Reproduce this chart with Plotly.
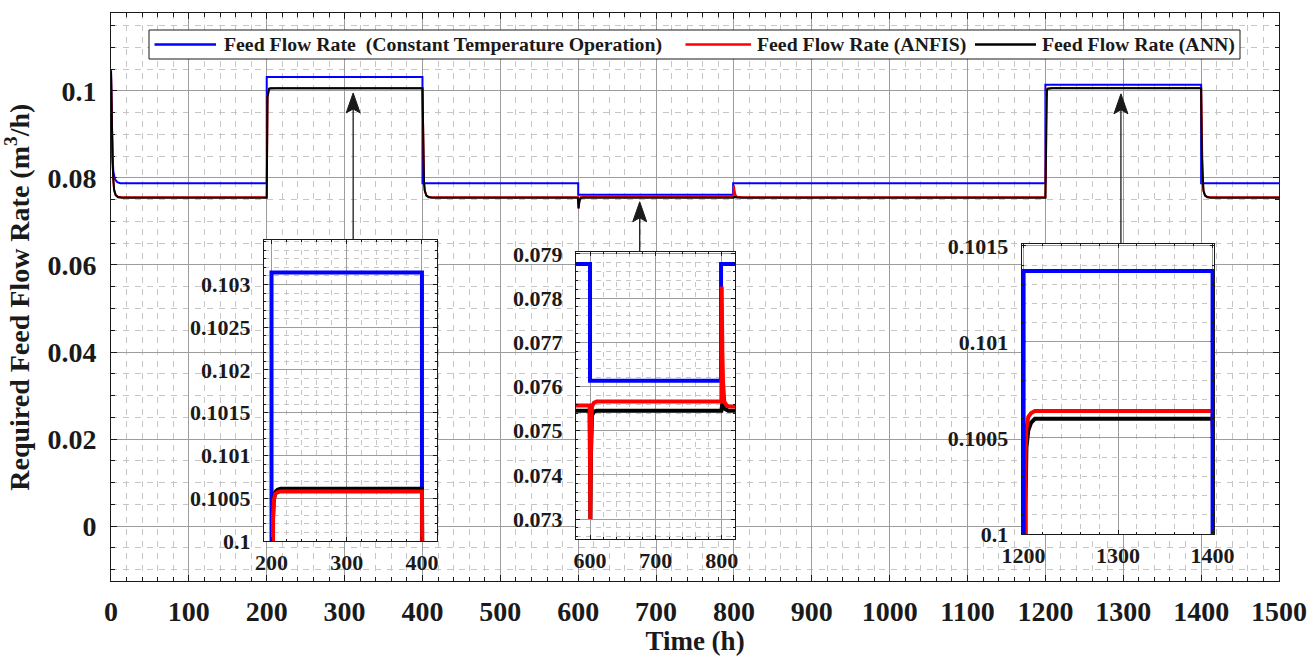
import plotly.graph_objects as go

# ---------------- data ----------------
T_CONST = [0, 1, 2, 3, 5, 8, 12, 200, 200, 400, 400, 600, 600, 799, 799,
           1200, 1200, 1400, 1400, 1500]
Q_CONST = [0.1050, 0.0930, 0.0850, 0.0815, 0.0797, 0.0790, 0.07877, 0.07877, 0.10314,
           0.10314, 0.07877, 0.07877, 0.07613, 0.07613, 0.07877,
           0.07877, 0.10137, 0.10137, 0.07877, 0.07877]

T_ANN = [0, 1, 2, 3, 4, 6, 9, 14,
         200, 201, 202, 203, 205, 208, 212,
         400, 401, 402, 403, 405, 408, 412,
         599.5, 600.5, 601.5, 603, 606, 610,
         799.5, 801, 804, 810,
         1200, 1201, 1202, 1203, 1205, 1208, 1212,
         1400, 1401, 1402, 1403, 1405, 1408, 1412, 1500]
Q_ANN = [0.1045, 0.0920, 0.0840, 0.0795, 0.0772, 0.0760, 0.07555, 0.07545,
         0.07545, 0.0985, 0.10025, 0.10048, 0.10057, 0.10060, 0.10061,
         0.10061, 0.0850, 0.0790, 0.0770, 0.0759, 0.07555, 0.07545,
         0.07545, 0.0730, 0.0745, 0.07535, 0.07543, 0.07545,
         0.07545, 0.07562, 0.07550, 0.07545,
         0.07545, 0.0985, 0.10015, 0.10045, 0.10054, 0.10058, 0.10060,
         0.10060, 0.0850, 0.0790, 0.0770, 0.0759, 0.07555, 0.07545, 0.07545]

T_ANFIS = [0, 1, 2, 3, 4, 6, 9, 14,
           200, 201, 202, 203, 205, 208, 212,
           400, 401, 402, 403, 405, 408, 412,
           599.5, 600.5, 601.5, 603, 606, 610,
           799.5, 800, 801, 802, 804, 808, 812,
           1200, 1201, 1202, 1203, 1205, 1208, 1212,
           1400, 1401, 1402, 1403, 1405, 1408, 1412, 1500]
Q_ANFIS = [0.1045, 0.0920, 0.0840, 0.0795, 0.0773, 0.0761, 0.07565, 0.07557,
           0.07557, 0.0990, 0.10030, 0.10048, 0.10055, 0.10057, 0.10058,
           0.10058, 0.0850, 0.0790, 0.0771, 0.0760, 0.07565, 0.07557,
           0.07557, 0.0730, 0.0748, 0.07555, 0.07563, 0.07566,
           0.07566, 0.07826, 0.0768, 0.0761, 0.07565, 0.07556, 0.07555,
           0.07557, 0.0995, 0.10040, 0.10055, 0.10061, 0.10063, 0.10064,
           0.10064, 0.0850, 0.0790, 0.0771, 0.0760, 0.07565, 0.07557, 0.07557]

NAMES = ["Feed Flow Rate&#160;&#160;(Constant Temperature Operation)",
         "Feed Flow Rate (ANFIS)",
         "Feed Flow Rate (ANN)"]

X_TICKS = list(range(0, 1501, 100))
Y_TICKS = [0, 0.02, 0.04, 0.06, 0.08, 0.1]
Y_TICK_TEXT = ["0", "0.02", "0.04", "0.06", "0.08", "0.1"]

IN1_X_TICKS = [200, 300, 400]
IN1_Y_TICKS = [0.1, 0.1005, 0.101, 0.1015, 0.102, 0.1025, 0.103]
IN1_Y_TEXT = ["0.1", "0.1005", "0.101", "0.1015", "0.102", "0.1025", "0.103"]
IN2_X_TICKS = [600, 700, 800]
IN2_Y_TICKS = [0.073, 0.074, 0.075, 0.076, 0.077, 0.078, 0.079]
IN2_Y_TEXT = ["0.073", "0.074", "0.075", "0.076", "0.077", "0.078", "0.079"]
IN3_X_TICKS = [1200, 1300, 1400]
IN3_Y_TICKS = [0.1, 0.1005, 0.101, 0.1015]
IN3_Y_TEXT = ["0.1", "0.1005", "0.101", "0.1015"]

# arrows: (time, tip value, tail value)
ARROWS = [(311, 0.0995, 0.0658), (679, 0.0745, 0.0631), (1297, 0.0993, 0.0649)]

# ---------------- styling ----------------
BLUE, RED, BLACK = "#0000ff", "#ff0000", "#000000"
COLORS = [BLUE, RED, BLACK]
INK = "#1a1a1a"
FONT = "Liberation Serif"
MAJOR_GRID = "#9c9c9c"
MINOR_GRID = "#c6c6c6"

W, H = 1312, 656
MAIN_XPX = (111, 1279)
MAIN_YPX = (13.3, 581)
MAIN_XR = [0, 1500]
MAIN_YR = [-0.0126, 0.1178]

# legend geometry (pixels)
LEG_BOX = (149, 30, 1240, 59)
LEG_Y = 44.5
LEG_LINES = [(154.5, 216), (685.5, 751), (975, 1036)]
LEG_TEXT_X = [222, 755, 1040]

fig = go.Figure()

for name, c, (t, q) in zip(NAMES, COLORS, [(T_CONST, Q_CONST), (T_ANFIS, Q_ANFIS), (T_ANN, Q_ANN)]):
    fig.add_trace(go.Scatter(x=t, y=q, mode="lines", name=name, showlegend=False,
                             line=dict(color=c, width=2), xaxis="x", yaxis="y"))

insets = [("x2", "y2", [BLUE, BLACK, RED]),
          ("x3", "y3", [BLUE, BLACK, RED]),
          ("x4", "y4", [BLACK, RED, BLUE])]
series = {BLUE: (T_CONST, Q_CONST), RED: (T_ANFIS, Q_ANFIS), BLACK: (T_ANN, Q_ANN)}
for xa, ya, order in insets:
    for c in order:
        t, q = series[c]
        fig.add_trace(go.Scatter(x=t, y=q, mode="lines", showlegend=False,
                                 line=dict(color=c, width=4), xaxis=xa, yaxis=ya,
                                 hoverinfo="skip"))


def px_dom(a, b, total, flip=False):
    if flip:
        return [1 - b / total, 1 - a / total]
    return [a / total, b / total]


def axis_common(fontsize):
    return dict(
        showline=True, linecolor=INK, linewidth=1, mirror="allticks",
        ticks="inside", ticklen=6, tickwidth=1, tickcolor=INK,
        showgrid=True, gridcolor=MAJOR_GRID, gridwidth=1, zeroline=False,
        automargin=False,
        tickfont=dict(family=FONT, size=fontsize, color=INK, weight="bold"),
    )


main_x = axis_common(28)
main_x.update(domain=px_dom(*MAIN_XPX, W), range=MAIN_XR, tickmode="array",
              tickvals=X_TICKS, ticktext=[str(v) for v in X_TICKS],
              minor=dict(dtick=20, ticks="inside", ticklen=4, tickcolor=INK,
                         showgrid=True, gridcolor=MINOR_GRID, griddash="6px,6px", gridwidth=1),
              ticklabelstandoff=5,
              title=dict(text="Time (h)", font=dict(family=FONT, size=27, weight="bold", color=INK),
                         standoff=10),
              anchor="y")
main_y = axis_common(28)
main_y.update(domain=px_dom(*MAIN_YPX, H, flip=True), range=MAIN_YR, tickmode="array",
              tickvals=Y_TICKS, ticktext=Y_TICK_TEXT,
              minor=dict(dtick=0.005, tick0=0, ticks="inside", ticklen=4, tickcolor=INK,
                         showgrid=True, gridcolor=MINOR_GRID, griddash="6px,6px", gridwidth=1),
              ticklabelstandoff=8,
              title=dict(text="Required Feed Flow Rate (m<sup>3</sup>/h)",
                         font=dict(family=FONT, size=28, weight="bold", color=INK),
                         standoff=12),
              anchor="x")

layout = dict(
    width=W, height=H, margin=dict(l=0, r=0, t=0, b=0, autoexpand=False),
    paper_bgcolor="white", plot_bgcolor="white",
    xaxis=main_x, yaxis=main_y,
    showlegend=False,
)

inset_specs = [
    ("xaxis2", "yaxis2", (264, 437), (240, 541), [190, 420], [0.1, 0.10352],
     IN1_X_TICKS, IN1_Y_TICKS, IN1_Y_TEXT, 20, 0.0001),
    ("xaxis3", "yaxis3", (576, 735), (251.7, 539), [578.7, 820.2], [0.07255, 0.07905],
     IN2_X_TICKS, IN2_Y_TICKS, IN2_Y_TEXT, 20, 0.0002),
    ("xaxis4", "yaxis4", (1021.7, 1214), (244, 534), [1198, 1401.5], [0.1, 0.10151],
     IN3_X_TICKS, IN3_Y_TICKS, IN3_Y_TEXT, 20, 0.0001),
]
shapes = []
for i, (xk, yk, xp, yp, xr, yr, xt, yt, ytxt, xm, ym) in enumerate(inset_specs):
    n = i + 2
    ax = axis_common(22)
    ax.update(domain=px_dom(xp[0], xp[1], W), range=xr, tickmode="array", tickvals=xt,
              ticktext=[str(v) for v in xt], anchor=f"y{n}", ticklen=4, ticklabelstandoff=2,
              minor=dict(dtick=xm, tick0=0, ticks="inside", ticklen=2, tickcolor=INK,
                         showgrid=True, gridcolor=MINOR_GRID, griddash="5px,5px"))
    ay = axis_common(22)
    ay.update(domain=px_dom(yp[0], yp[1], H, flip=True), range=yr, tickmode="array",
              tickvals=yt, ticktext=ytxt, anchor=f"x{n}", ticklen=4, ticklabelstandoff=8,
              minor=dict(dtick=ym, tick0=0, ticks="inside", ticklen=2, tickcolor=INK,
                         showgrid=True, gridcolor=MINOR_GRID, griddash="5px,5px"))
    layout[xk] = ax
    layout[yk] = ay
    shapes.append(dict(type="rect", xref=f"x{n}", yref=f"y{n}", x0=xr[0], x1=xr[1],
                       y0=yr[0], y1=yr[1], fillcolor="white", line=dict(width=0), layer="below"))

# arrows as shapes (shaft + notched head), sized in pixels and converted to data units
px_per_t = (MAIN_XPX[1] - MAIN_XPX[0]) / (MAIN_XR[1] - MAIN_XR[0])
px_per_q = (MAIN_YPX[1] - MAIN_YPX[0]) / (MAIN_YR[1] - MAIN_YR[0])
HEAD_LEN, HEAD_HALF, NOTCH = 20, 7, 4
for t, qtip, qtail in ARROWS:
    dl = HEAD_LEN / px_per_q
    dn = NOTCH / px_per_q
    dw = HEAD_HALF / px_per_t
    shapes.append(dict(type="line", xref="x", yref="y", x0=t, x1=t, y0=qtail, y1=qtip - dl + dn,
                       line=dict(color=INK, width=1.3), layer="above"))
    path = (f"M {t},{qtip} L {t - dw},{qtip - dl} L {t},{qtip - dl + dn} "
            f"L {t + dw},{qtip - dl} Z")
    shapes.append(dict(type="path", xref="x", yref="y", path=path, fillcolor=INK,
                       line=dict(color=INK, width=1), layer="above"))

# hand-built legend (box, line samples, labels)
shapes.append(dict(type="rect", xref="paper", yref="paper",
                   x0=LEG_BOX[0] / W, x1=LEG_BOX[2] / W, y0=1 - LEG_BOX[3] / H, y1=1 - LEG_BOX[1] / H,
                   fillcolor="white", line=dict(color=INK, width=1), layer="above"))
annotations = []
for (x0, x1), tx, c, name in zip(LEG_LINES, LEG_TEXT_X, COLORS, NAMES):
    shapes.append(dict(type="line", xref="paper", yref="paper", x0=x0 / W, x1=x1 / W,
                       y0=1 - LEG_Y / H, y1=1 - LEG_Y / H, line=dict(color=c, width=2.5),
                       layer="above"))
    annotations.append(dict(xref="paper", yref="paper", x=tx / W, y=1 - LEG_Y / H,
                            xanchor="left", yanchor="middle", text=name, showarrow=False,
                            font=dict(family=FONT, size=19.8, weight="bold", color=INK)))

layout["shapes"] = shapes
layout["annotations"] = annotations
fig.update_layout(**layout)

fig.write_html("out.html")
